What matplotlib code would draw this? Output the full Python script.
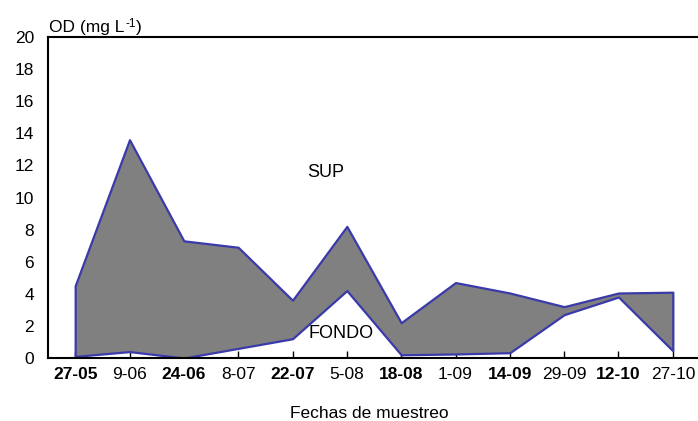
import matplotlib
matplotlib.use("Agg")
import matplotlib.pyplot as plt
import numpy as np

fechas = ["27-05", "9-06", "24-06", "8-07", "22-07", "5-08", "18-08",
          "1-09", "14-09", "29-09", "12-10", "27-10"]
negrita = [True, False, True, False, True, False, True, False, True, False, True, False]
sup = [4.5, 13.6, 7.3, 6.9, 3.6, 8.2, 2.2, 4.7, 4.05, 3.2, 4.05, 4.1]
fondo = [0.1, 0.4, 0.0, 0.6, 1.2, 4.2, 0.2, 0.25, 0.33, 2.7, 3.8, 0.45]

plt.rcParams['font.family'] = ['Liberation Sans', 'DejaVu Sans']

W, H = 698, 421
FS = 12.5
fig = plt.figure(figsize=(W / 100, H / 100), dpi=100)
ax = fig.add_axes([48 / W, (H - 358) / H, (700 - 48) / W, (358 - 37) / H])

x = np.arange(len(fechas))
ax.fill_between(x, fondo, sup, facecolor="#808080", edgecolor="#3a3aaa",
                linewidth=1.6, zorder=2)

ax.set_xlim(-0.5, len(fechas) - 0.5)
ax.set_ylim(0, 20)
ax.set_yticks(np.arange(0, 21, 2))
ax.tick_params(axis='y', length=0, pad=10, labelsize=FS)
ax.set_xticks(x)
ax.set_xticklabels(fechas)
for lbl, b in zip(ax.get_xticklabels(), negrita):
    lbl.set_fontweight('bold' if b else 'normal')
ax.tick_params(axis='x', direction='in', length=5, width=1, pad=6.5, labelsize=FS)

for s in ['left', 'bottom', 'top']:
    ax.spines[s].set_linewidth(1.5)
ax.spines['right'].set_visible(False)

fig.text(307 / W, 1 - 177 / H, "SUP", fontsize=13, ha='left', va='baseline')
fig.text(308 / W, 1 - 338 / H, "FONDO", fontsize=13, ha='left', va='baseline')

t1 = fig.text(49 / W, 1 - 32 / H, "OD (mg L", fontsize=FS,
              ha='left', va='baseline')
t2 = fig.add_artist(matplotlib.text.Annotation(
    "-1", xy=(1, 0), xycoords=t1, xytext=(0.5, 6), textcoords='offset points',
    fontsize=8.5, ha='left', va='baseline'))
t3 = fig.add_artist(matplotlib.text.Annotation(
    ")", xy=(1, 0), xycoords=t2, xytext=(0.5, -1.5), textcoords='offset points',
    fontsize=FS, ha='left', va='baseline'))

fig.text(369 / W, 1 - 418 / H, "Fechas de muestreo", fontsize=FS,
         ha='center', va='baseline')

fig.savefig("out.png", dpi=100)
